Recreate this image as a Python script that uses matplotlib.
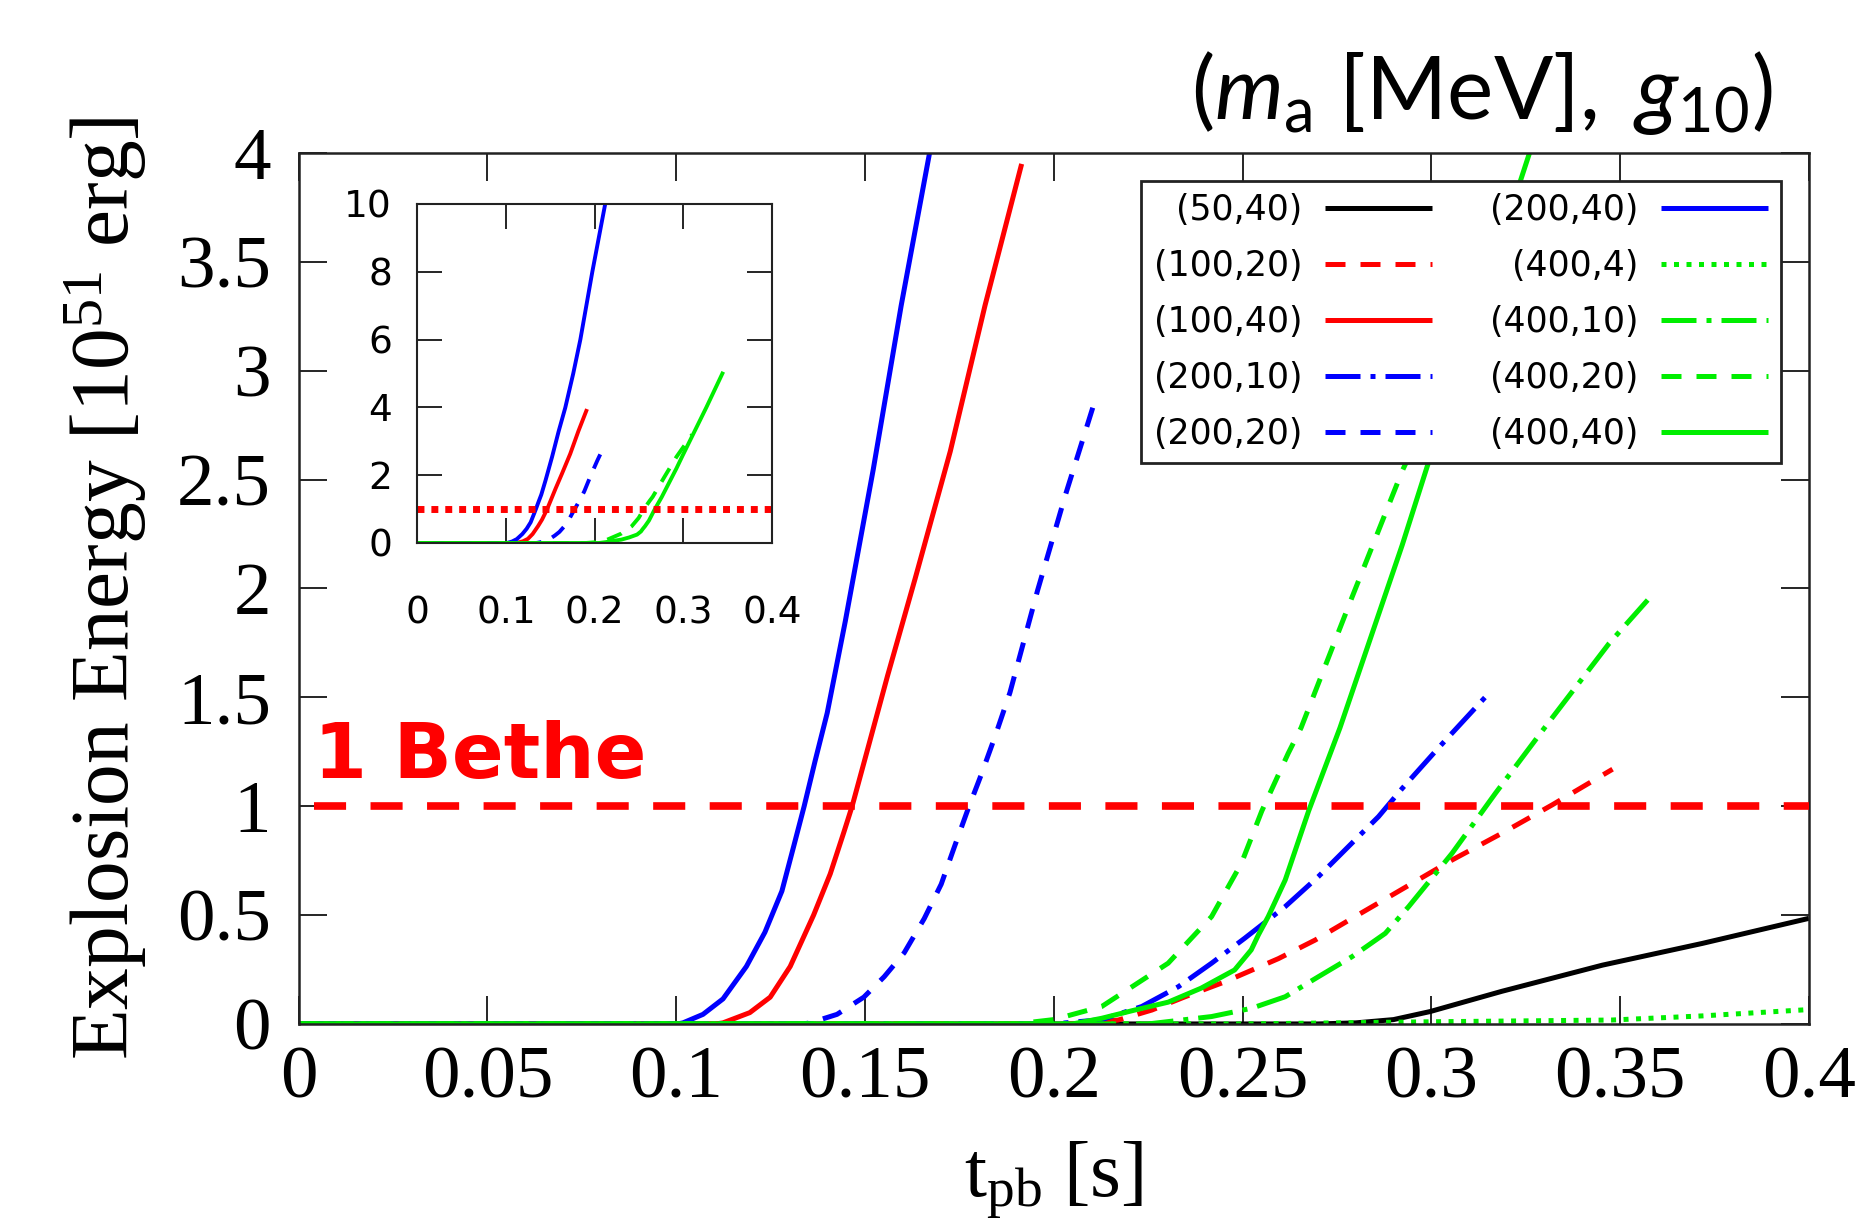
import matplotlib.pyplot as plt

plt.rcParams['font.family'] = 'Liberation Serif'
plt.rcParams['mathtext.fontset'] = 'custom'
plt.rcParams['mathtext.rm'] = 'Liberation Serif'
plt.rcParams['mathtext.sf'] = 'Lato'
plt.rcParams['mathtext.it'] = 'Lato:italic'

# explosion energy [1e51 erg] vs post-bounce time [s], label = (m_a [MeV], g_10)
t_50_40 = [0, 0.27, 0.28, 0.29, 0.2997, 0.3187, 0.3453, 0.3718, 0.40]
e_50_40 = [0, 0, 0.005, 0.02, 0.057, 0.15, 0.27, 0.37, 0.485]

t_100_20 = [0, 0.207, 0.2171, 0.226, 0.2348, 0.2454, 0.2595, 0.2692, 0.2798, 0.2904, 0.3055, 0.3187, 0.332, 0.348]
e_100_20 = [0, 0, 0.018, 0.064, 0.125, 0.194, 0.30, 0.385, 0.493, 0.60, 0.753, 0.876, 1.006, 1.17]

t_100_40 = [0, 0.1105, 0.1124, 0.1195, 0.1249, 0.1302, 0.1364, 0.1408, 0.1444, 0.1466, 0.1506, 0.156,
            0.1633, 0.1726, 0.1818, 0.1915]
e_100_40 = [0, 0, 0.005, 0.052, 0.123, 0.264, 0.5, 0.689, 0.88, 1.0, 1.255, 1.60,
            2.046, 2.63, 3.30, 3.95]

t_200_10 = [0, 0.200, 0.2127, 0.2233, 0.2330, 0.2418, 0.2506, 0.2613, 0.2701, 0.2798, 0.2860, 0.2922, 0.302, 0.3153]
e_200_10 = [0, 0, 0.02, 0.08, 0.171, 0.279, 0.394, 0.539, 0.677, 0.845, 0.952, 1.08, 1.27, 1.52]

t_200_20 = [0, 0.1337, 0.1355, 0.1426, 0.1497, 0.1551, 0.1604, 0.1657, 0.1702, 0.1737, 0.1773, 0.1808,
            0.1844, 0.1884, 0.1957, 0.2031, 0.2115]
e_200_20 = [0, 0, 0.005, 0.044, 0.123, 0.217, 0.327, 0.484, 0.642, 0.814, 0.987, 1.145,
            1.318, 1.522, 1.99, 2.43, 2.895]

t_200_40 = [0, 0.1004, 0.1018, 0.1071, 0.1124, 0.1186, 0.1235, 0.128, 0.1311, 0.1339, 0.1368, 0.140,
            0.1448, 0.1522, 0.1596, 0.1670, 0.176, 0.184, 0.1975, 0.212, 0.215]
e_200_40 = [0, 0, 0.005, 0.044, 0.115, 0.264, 0.421, 0.61, 0.814, 1.0, 1.208, 1.428,
            1.85, 2.547, 3.30, 3.99, 5.0, 6.0, 8.0, 10.0, 10.4]

t_400_4 = [0, 0.25, 0.30, 0.3478, 0.3718, 0.40]
e_400_4 = [0, 0, 0.01, 0.018, 0.037, 0.066]

t_400_10 = [0, 0.225, 0.2418, 0.2524, 0.2613, 0.2701, 0.279, 0.2878, 0.294, 0.3055, 0.317, 0.3302, 0.3471, 0.3573]
e_400_10 = [0, 0, 0.034, 0.072, 0.125, 0.217, 0.309, 0.416, 0.539, 0.784, 1.06, 1.365, 1.748, 1.947]

t_400_20 = [0, 0.19, 0.2, 0.2127, 0.2303, 0.2418, 0.2497, 0.2551, 0.2621, 0.2655, 0.279, 0.2923, 0.31]
e_400_20 = [0, 0, 0.02, 0.08, 0.279, 0.493, 0.738, 0.978, 1.243, 1.36, 1.96, 2.54, 3.2]

t_400_40 = [0, 0.205, 0.2127, 0.2215, 0.2303, 0.239, 0.2479, 0.2523, 0.2542, 0.2568, 0.2613, 0.2675, 0.2758, 0.2923, 0.2989, 0.326, 0.345]
e_400_40 = [0, 0, 0.026, 0.064, 0.10, 0.164, 0.248, 0.34, 0.409, 0.493, 0.661, 0.978, 1.36, 2.2, 2.56, 4.0, 5.05]

labels = ['(50,40)', '(100,20)', '(100,40)', '(200,10)', '(200,20)',
          '(200,40)', '(400,4)', '(400,10)', '(400,20)', '(400,40)']
times = [t_50_40, t_100_20, t_100_40, t_200_10, t_200_20,
         t_200_40, t_400_4, t_400_10, t_400_20, t_400_40]
energies = [e_50_40, e_100_20, e_100_40, e_200_10, e_200_20,
            e_200_40, e_400_4, e_400_10, e_400_20, e_400_40]

green = '#00ee00'
solid = None
dashed = (4, 3)
dashdot = (7, 2, 1, 2)
dotted = (1, 1.5)
colors = ['black', 'red', 'red', 'blue', 'blue', 'blue', green, green, green, green]
styles = [solid, dashed, solid, dashdot, dashed, solid, dotted, dashdot, dashed, solid]

xticks = [0, 0.05, 0.1, 0.15, 0.2, 0.25, 0.3, 0.35, 0.4]
xticklabels = ['0', '0.05', '0.1', '0.15', '0.2', '0.25', '0.3', '0.35', '0.4']
yticks = [0, 0.5, 1, 1.5, 2, 2.5, 3, 3.5, 4]
yticklabels = ['0', '0.5', '1', '1.5', '2', '2.5', '3', '3.5', '4']

fig = plt.figure(figsize=(18.72, 12.31), dpi=100)
ax = fig.add_axes([0.1595, 0.1682, 0.8068, 0.7075])

for t, e, lab, c, ds in zip(times, energies, labels, colors, styles):
    line, = ax.plot(t, e, color=c, lw=3.6, label=lab, solid_capstyle='butt')
    if ds is not None:
        line.set_dashes(ds)

# 1 Bethe line
ax.plot([0.004, 0.4], [1, 1], color='red', lw=5.5, dashes=(4.2, 3.2), zorder=4)
ax.text(0.004, 1.13, '1 Bethe', color='red', fontsize=55, fontweight='bold',
        family='DejaVu Sans', va='baseline')

ax.set_xlim(0, 0.4)
ax.set_ylim(0, 4)
ax.set_xticks(xticks)
ax.set_xticklabels(xticklabels)
ax.set_yticks(yticks)
ax.set_yticklabels(yticklabels)
ax.tick_params(direction='in', length=20, width=1.2, top=True, right=True,
               labelsize=54)
ax.tick_params(axis='x', pad=16)
ax.tick_params(axis='y', pad=20)
for s in ax.spines.values():
    s.set_linewidth(1.8)
    s.set_color('#222222')

ax.set_xlabel(r'$\mathregular{t_{pb}}$ [s]', fontsize=57, labelpad=18)
ax.set_ylabel(r'Explosion Energy [$\mathregular{10^{51}}$ erg]', fontsize=60, labelpad=20)

leg = ax.legend(ncol=2, markerfirst=False, loc='upper right',
                bbox_to_anchor=(0.9815, 0.968), borderaxespad=0,
                prop={'family': 'DejaVu Sans', 'size': 25},
                handlelength=3.1, handletextpad=0.65, columnspacing=1.65,
                labelspacing=0.63, borderpad=0.36, fancybox=False,
                edgecolor='#222222', framealpha=1)
leg.get_frame().set_linewidth(2)

fig.text(0.947, 0.903,
         r'$\mathsf{(}\mathit{m}_\mathsf{a}\mathsf{\ [MeV],\ }\mathit{g}_\mathsf{10}\mathsf{)}$',
         ha='right', va='baseline', fontsize=63)

# inset
axin = fig.add_axes([0.2228, 0.5589, 0.1896, 0.2754])
inset_idx = [2, 4, 5, 8, 9]
for i in inset_idx:
    line, = axin.plot(times[i], energies[i], color=colors[i], lw=2.8, solid_capstyle='butt')
    if styles[i] is not None:
        line.set_dashes(styles[i])
axin.plot([0, 0.4], [1, 1], color='red', lw=5, dashes=(1, 1))
axin.set_xlim(0, 0.4)
axin.set_ylim(0, 10)
axin.set_xticks([0, 0.1, 0.2, 0.3, 0.4])
axin.set_xticklabels(['0', '0.1', '0.2', '0.3', '0.4'])
axin.set_yticks([0, 2, 4, 6, 8, 10])
axin.set_yticklabels(['0', '2', '4', '6', '8', '10'])
axin.tick_params(direction='in', length=18, width=1.2, top=True, right=True,
                 labelsize=27)
axin.tick_params(axis='x', pad=38)
axin.tick_params(axis='y', pad=18)
for lbl in axin.get_xticklabels() + axin.get_yticklabels():
    lbl.set_fontfamily('DejaVu Sans')
for s in axin.spines.values():
    s.set_linewidth(1.5)
    s.set_color('#222222')

fig.savefig('out.png', dpi=100)
